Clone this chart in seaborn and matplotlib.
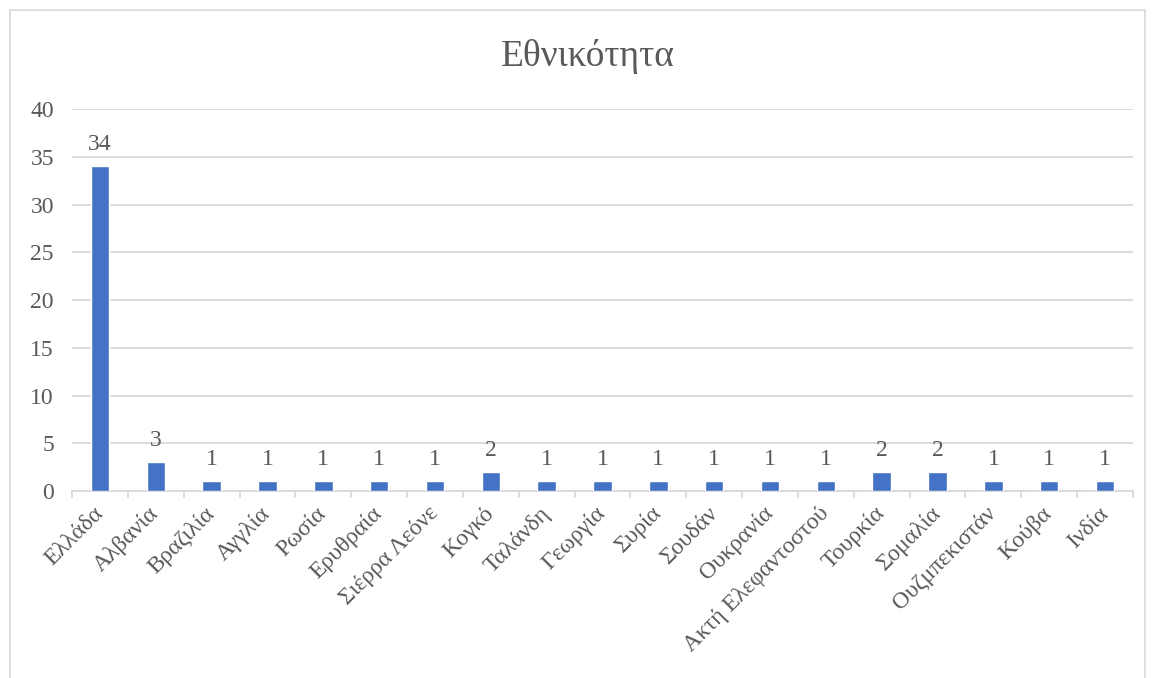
import matplotlib
matplotlib.use("Agg")
import matplotlib.pyplot as plt
import seaborn as sns
import pandas as pd
from matplotlib.patches import Rectangle

countries = ["Ελλάδα", "Αλβανία", "Βραζιλία", "Αγγλία", "Ρωσία", "Ερυθραία",
             "Σιέρρα Λεόνε", "Κογκό", "Ταλάνδη", "Γεωργία", "Συρία", "Σουδάν",
             "Ουκρανία", "Ακτή Ελεφαντοστού", "Τουρκία", "Σομαλία",
             "Ουζμπεκιστάν", "Κούβα", "Ινδία"]
counts = [34, 3, 1, 1, 1, 1, 1, 2, 1, 1, 1, 1, 1, 1, 2, 2, 1, 1, 1]
yticks = [0, 5, 10, 15, 20, 25, 30, 35, 40]
title = "Εθνικότητα"

sns.set_theme(style="white")
plt.rcParams['font.family'] = ['Liberation Serif', 'DejaVu Serif']

txt = "#595959"
grid = "#d9d9d9"

fig = plt.figure(figsize=(11.55, 6.78), dpi=100)
ax = fig.add_axes([72/1155, 1-491/678, (1133-72)/1155, (491-109)/678])

df = pd.DataFrame({"country": countries, "count": counts})
sns.barplot(data=df, x="country", y="count", color="#4472C4", width=0.33,
            saturation=1, ax=ax, zorder=3)

ax.set_ylim(0, 40)
ax.set_xlim(-0.5, len(countries) - 0.5)
ax.set_yticks(yticks)
ax.set_yticklabels([str(t) for t in yticks], fontsize=17, color=txt)
ax.yaxis.grid(True, color=grid, linewidth=1.3, zorder=0)
ax.set_axisbelow(True)
ax.tick_params(axis='y', length=0, pad=13)

ax.set_xticks(range(len(countries)))
ax.set_xticklabels(countries, rotation=45, ha='right', va='center',
                   rotation_mode='anchor', fontsize=17, color=txt)
ax.tick_params(axis='x', length=0, pad=14)
# category boundary tick marks
for b in [i - 0.5 for i in range(len(countries) + 1)]:
    ax.plot([b, b], [0, -0.0155 * 40], color=grid, linewidth=1.3,
            clip_on=False, zorder=1)

for s in ["top", "right", "left"]:
    ax.spines[s].set_visible(False)
ax.spines["bottom"].set_color(grid)
ax.spines["bottom"].set_linewidth(1.3)

ax.set_xlabel("")
ax.set_ylabel("")

for c in ax.containers:
    ax.bar_label(c, labels=[str(v) for v in counts], padding=8,
                 fontsize=17, color=txt)

fig.text(588/1155, 1-57/678, title, ha='center', va='center',
         fontsize=27, color=txt)

fig.patches.append(Rectangle((10/1155, -0.05), (1145-10)/1155, 1.05 - 10/678,
                             transform=fig.transFigure, fill=False,
                             edgecolor=grid, linewidth=1.2))

fig.savefig("out.png", dpi=100)
